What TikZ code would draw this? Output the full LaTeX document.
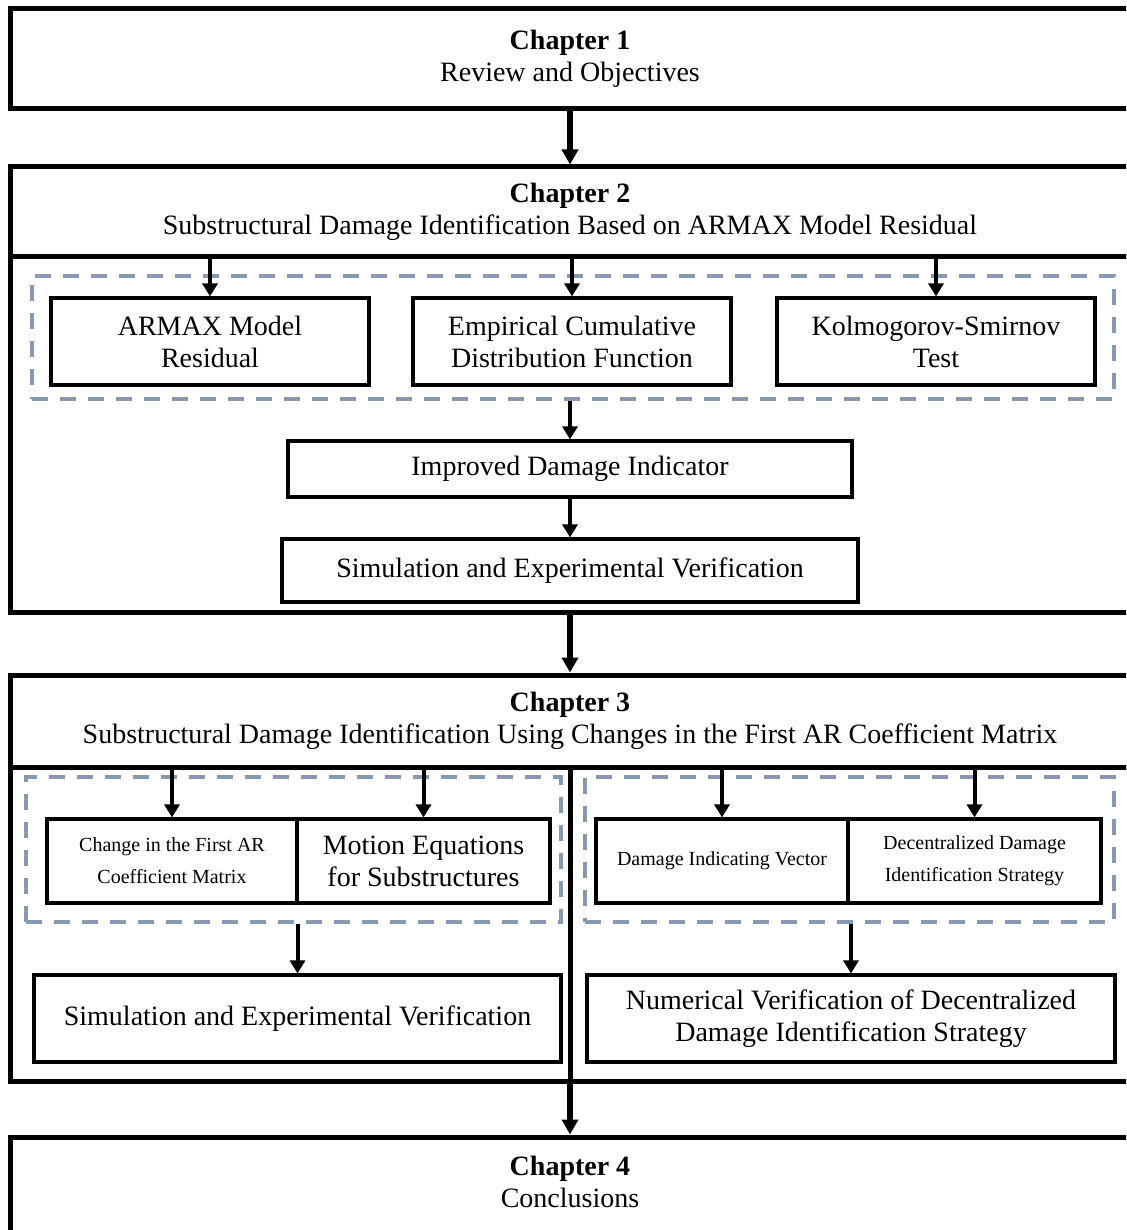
\documentclass[tikz,border=0pt]{standalone}
\usepackage{fontspec}
\setmainfont{Liberation Serif}
\usetikzlibrary{arrows.meta}
\definecolor{dashblue}{RGB}{134,152,178}
\begin{document}
\begin{tikzpicture}[x=0.5pt,y=-0.5pt,
  chapbox/.style={draw, line width=2.5pt, minimum width=559.5pt, inner sep=0pt},
  chaptext/.style={align=center, font=\fontsize{14}{16}\selectfont},
  stepbox/.style={draw, line width=1.6pt, align=center, inner sep=0pt,
                  font=\fontsize{14}{16}\selectfont},
  smallbox/.style={stepbox, font=\fontsize{10}{16}\selectfont},
  group/.style={draw=dashblue, line width=2pt, dash pattern=on 8pt off 6pt, inner sep=0pt},
  flow/.style={-{Triangle[width=7.5pt,length=6.5pt]}, line width=2pt},
  chapflow/.style={-{Triangle[width=8pt,length=7.5pt]}, line width=2.75pt},
]
\useasboundingbox (0,0) rectangle (1126,1230);
\clip (0,0) rectangle (1126,1230);

% Chapter 1
\node[chapbox, minimum height=50pt, chaptext] (ch1) at (570,58.5)
  {\textbf{Chapter 1}\\Review and Objectives};

% Chapter 2: header and body
\node[chapbox, minimum height=44.5pt, chaptext] (ch2h) at (570,211.5)
  {\textbf{Chapter 2}\\Substructural Damage Identification Based on ARMAX Model Residual};
\node[chapbox, minimum height=178pt] (ch2b) at (570,434) {};

\node[group, minimum width=541pt, minimum height=61.5pt] (dash2) at (573,337.5) {};
\node[stepbox, minimum width=159pt, minimum height=43.5pt] (armax) at (210,341.5)
  {ARMAX Model\\Residual};
\node[stepbox, minimum width=159pt, minimum height=43.5pt] (ecdf) at (572,341.5)
  {Empirical Cumulative\\Distribution Function};
\node[stepbox, minimum width=159pt, minimum height=43.5pt] (ks) at (936,341.5)
  {Kolmogorov-Smirnov\\Test};
\node[stepbox, minimum width=282pt, minimum height=28pt] (improved) at (570,469)
  {Improved Damage Indicator};
\node[stepbox, minimum width=288pt, minimum height=31.5pt] (sev2) at (570,570.5)
  {Simulation and Experimental Verification};

% Chapter 3: header and body
\node[chapbox, minimum height=46pt, chaptext] (ch3h) at (570,721)
  {\textbf{Chapter 3}\\Substructural Damage Identification Using Changes in the First AR Coefficient Matrix};
\node[chapbox, minimum height=157pt] (ch3b) at (570,924) {};

\node[group, minimum width=267.5pt, minimum height=72.5pt] (dashL) at (293.5,849.5) {};
\node[smallbox, minimum width=125pt, minimum height=42pt] (change) at (172,861)
  {Change in the First AR\\Coefficient Matrix};
\node[stepbox, minimum width=126.5pt, minimum height=42pt] (motion) at (423.5,861)
  {Motion Equations\\for Substructures};
\node[stepbox, minimum width=263.5pt, minimum height=43.5pt] (sev3) at (297.5,1018.5)
  {Simulation and Experimental Verification};

\node[group, minimum width=264.5pt, minimum height=72.5pt] (dashR) at (849.5,849.5) {};
\node[smallbox, minimum width=126pt, minimum height=42pt] (divec) at (722,861)
  {Damage Indicating Vector};
\node[smallbox, minimum width=126.5pt, minimum height=42pt] (decen) at (974.5,861)
  {Decentralized Damage\\Identification Strategy};
\node[stepbox, minimum width=264pt, minimum height=43.5pt] (numver) at (851,1018.5)
  {Numerical Verification of Decentralized\\Damage Identification Strategy};

% Chapter 4
\node[chapbox, minimum height=81.5pt] (ch4) at (570,1218.5) {};
\node[chaptext] (ch4t) at (570,1182) {\textbf{Chapter 4}\\Conclusions};

% Connectors within Chapter 2
\draw[flow] (armax.north |- ch2h.south) -- (armax.north);
\draw[flow] (ecdf.north |- ch2h.south) -- (ecdf.north);
\draw[flow] (ks.north |- ch2h.south) -- (ks.north);
\draw[flow] (improved.north |- dash2.south) -- (improved.north);
\draw[flow] (improved.south) -- (sev2.north);

% Connectors within Chapter 3
\draw[line width=2.5pt] (ch3h.south) -- (ch3b.south);
\draw[flow] (change.north |- ch3h.south) -- (change.north);
\draw[flow] (motion.north |- ch3h.south) -- (motion.north);
\draw[flow] (divec.north |- ch3h.south) -- (divec.north);
\draw[flow] (decen.north |- ch3h.south) -- (decen.north);
\draw[flow] (sev3.north |- dashL.south) -- (sev3.north);
\draw[flow] (numver.north |- dashR.south) -- (numver.north);

% Chapter sequence
\draw[chapflow] (ch1.south) -- (ch2h.north);
\draw[chapflow] (ch2b.south) -- (ch3h.north);
\draw[chapflow] (ch3b.south) -- (ch4.north);
\end{tikzpicture}
\end{document}
